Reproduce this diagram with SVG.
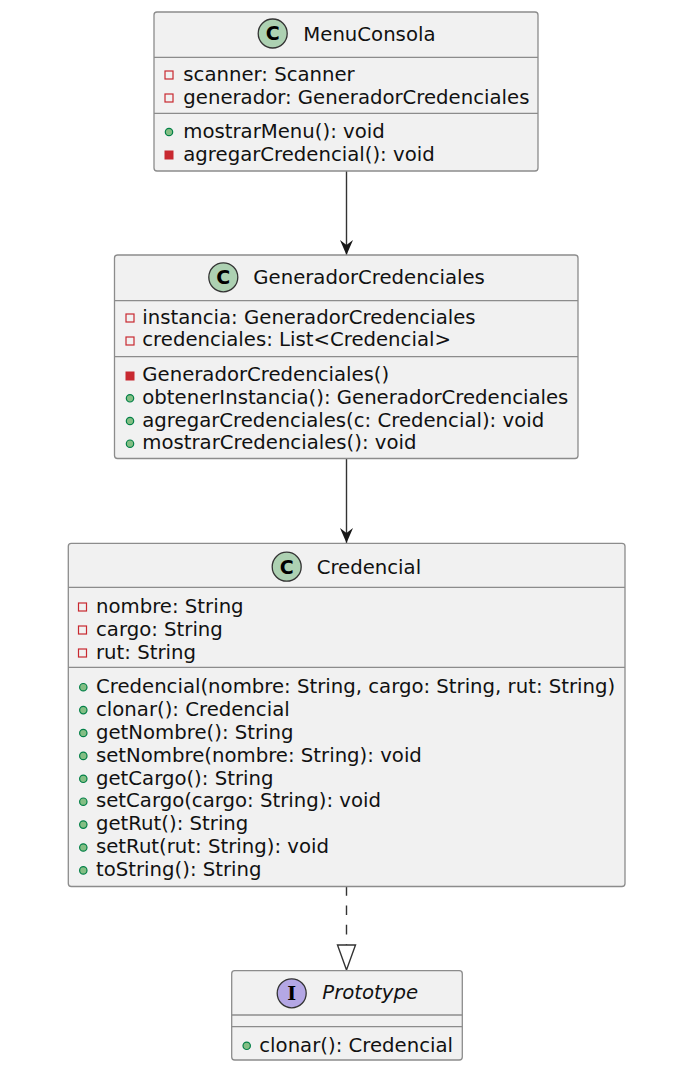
<svg xmlns="http://www.w3.org/2000/svg" width="694" height="1081" viewBox="0 0 694 1081">
<defs>
<style>
.box{fill:#F1F1F1;stroke:#8c8c8c;stroke-width:1.3}
.sep{stroke:#8c8c8c;stroke-width:1.3}
.t{font-family:"DejaVu Sans",sans-serif;font-size:19.7px;fill:#111}
.ic{fill:#ADD1B2;stroke:#333;stroke-width:1.3}
.ii{fill:#B4A7E5;stroke:#333;stroke-width:1.3}
.glyph{font-family:"DejaVu Sans",sans-serif;font-weight:bold;font-size:19px;fill:#000}
.pf{fill:none;stroke:#C82930;stroke-width:1.2}
.pm{fill:#C82930;stroke:#C82930;stroke-width:1}
.pub{fill:#84BE84;stroke:#038048;stroke-width:1.2}
.edge{stroke:#333;stroke-width:1.4;fill:none}
</style>
<marker id="arr" markerWidth="16" markerHeight="16" viewBox="0 0 16 16" refX="15" refY="8" orient="auto" markerUnits="userSpaceOnUse">
<path d="M0,1.5 L15,8 L0,14.5 L5,8 Z" fill="#181818"/>
</marker>
</defs>

<g id="connectors">
<line class="edge" x1="346.5" y1="171" x2="346.5" y2="255" marker-end="url(#arr)"/>
<line class="edge" x1="346.5" y1="459" x2="346.5" y2="543" marker-end="url(#arr)"/>
<line class="edge" x1="346.5" y1="886" x2="346.5" y2="945" stroke-dasharray="9.7,9.7"/>
<polygon points="337.5,945 355.5,945 346.5,970" fill="none" stroke="#333" stroke-width="1.4"/>
</g>

<g id="MenuConsola">
<rect class="box" x="154" y="12" width="384" height="159" rx="3"/>
<line class="sep" x1="154" y1="57.3" x2="538" y2="57.3"/>
<line class="sep" x1="154" y1="113.3" x2="538" y2="113.3"/>
<circle class="ic" cx="272.7" cy="33.5" r="14.5"/>
<text class="glyph" x="272.7" y="40.3" text-anchor="middle">C</text>
<text class="t" x="303.3" y="41">MenuConsola</text>
<rect class="pf" x="165" y="71" width="8" height="8"/>
<text class="t" x="183.3" y="81">scanner: Scanner</text>
<rect class="pf" x="165" y="94" width="8" height="8"/>
<text class="t" x="183.3" y="104">generador: GeneradorCredenciales</text>
<circle class="pub" cx="169" cy="132" r="3.7"/>
<text class="t" x="183.3" y="137.7">mostrarMenu(): void</text>
<rect class="pm" x="165" y="151" width="8" height="8"/>
<text class="t" x="183.3" y="161">agregarCredencial(): void</text>
</g>

<g id="GeneradorCredenciales">
<rect class="box" x="114.5" y="255" width="463.5" height="203.5" rx="3"/>
<line class="sep" x1="114.5" y1="300.7" x2="578" y2="300.7"/>
<line class="sep" x1="114.5" y1="356.7" x2="578" y2="356.7"/>
<circle class="ic" cx="223.3" cy="277.3" r="14.5"/>
<text class="glyph" x="223.3" y="284.1" text-anchor="middle">C</text>
<text class="t" x="253.3" y="284.3">GeneradorCredenciales</text>
<rect class="pf" x="126" y="314" width="8" height="8"/>
<text class="t" x="142.3" y="323.5">instancia: GeneradorCredenciales</text>
<rect class="pf" x="126" y="337" width="8" height="8"/>
<text class="t" x="142.3" y="346.3">credenciales: List&lt;Credencial&gt;</text>
<rect class="pm" x="126" y="372" width="8" height="8"/>
<text class="t" x="142.3" y="381.3">GeneradorCredenciales()</text>
<circle class="pub" cx="130" cy="398.3" r="3.7"/>
<text class="t" x="142.3" y="404">obtenerInstancia(): GeneradorCredenciales</text>
<circle class="pub" cx="130" cy="421" r="3.7"/>
<text class="t" x="142.3" y="426.7">agregarCredenciales(c: Credencial): void</text>
<circle class="pub" cx="130" cy="443.7" r="3.7"/>
<text class="t" x="142.3" y="449.4">mostrarCredenciales(): void</text>
</g>

<g id="Credencial">
<rect class="box" x="68.3" y="543.3" width="556.7" height="343.2" rx="3"/>
<line class="sep" x1="68.3" y1="587.3" x2="625" y2="587.3"/>
<line class="sep" x1="68.3" y1="667.3" x2="625" y2="667.3"/>
<circle class="ic" cx="286.7" cy="566.7" r="14.5"/>
<text class="glyph" x="286.7" y="573.5" text-anchor="middle">C</text>
<text class="t" x="316.7" y="574.3">Credencial</text>
<rect class="pf" x="78.5" y="603" width="8" height="8"/>
<text class="t" x="96" y="613.3">nombre: String</text>
<rect class="pf" x="78.5" y="626" width="8" height="8"/>
<text class="t" x="96" y="636.2">cargo: String</text>
<rect class="pf" x="78.5" y="649" width="8" height="8"/>
<text class="t" x="96" y="659">rut: String</text>
<circle class="pub" cx="83.3" cy="687.2" r="3.7"/>
<text class="t" x="96" y="692.9">Credencial(nombre: String, cargo: String, rut: String)</text>
<circle class="pub" cx="83.3" cy="710.1" r="3.7"/>
<text class="t" x="96" y="715.8">clonar(): Credencial</text>
<circle class="pub" cx="83.3" cy="733" r="3.7"/>
<text class="t" x="96" y="738.7">getNombre(): String</text>
<circle class="pub" cx="83.3" cy="755.9" r="3.7"/>
<text class="t" x="96" y="761.6">setNombre(nombre: String): void</text>
<circle class="pub" cx="83.3" cy="778.8" r="3.7"/>
<text class="t" x="96" y="784.5">getCargo(): String</text>
<circle class="pub" cx="83.3" cy="801.7" r="3.7"/>
<text class="t" x="96" y="807.4">setCargo(cargo: String): void</text>
<circle class="pub" cx="83.3" cy="824.6" r="3.7"/>
<text class="t" x="96" y="830.3">getRut(): String</text>
<circle class="pub" cx="83.3" cy="847.5" r="3.7"/>
<text class="t" x="96" y="853.2">setRut(rut: String): void</text>
<circle class="pub" cx="83.3" cy="870.4" r="3.7"/>
<text class="t" x="96" y="876.1">toString(): String</text>
</g>

<g id="Prototype">
<rect class="box" x="231.7" y="970.7" width="230.6" height="89.3" rx="3"/>
<line class="sep" x1="231.7" y1="1015" x2="462.3" y2="1015"/>
<line class="sep" x1="231.7" y1="1026.7" x2="462.3" y2="1026.7"/>
<circle class="ii" cx="291.7" cy="993.3" r="14.5"/>
<text x="291.7" y="1000" text-anchor="middle" font-family="DejaVu Serif,serif" font-weight="bold" font-size="19" fill="#000">I</text>
<text class="t" x="322.3" y="999.3" font-style="italic">Prototype</text>
<circle class="pub" cx="246.7" cy="1045.8" r="3.7"/>
<text class="t" x="259.3" y="1051.5">clonar(): Credencial</text>
</g>
</svg>
